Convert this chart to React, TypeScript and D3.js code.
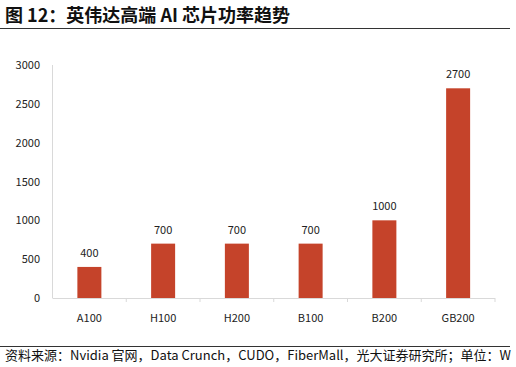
import React from "react";
import * as d3 from "d3";

const categories = ["A100", "H100", "H200", "B100", "B200", "GB200"];
const values = [400, 700, 700, 700, 1000, 2700];
const yTicks = [0, 500, 1000, 1500, 2000, 2500, 3000];

const W = 516, H = 367;
const left = 52.5, right = 495, top = 65, bottom = 298;
const FONT = "'Noto Sans CJK SC', 'Noto Sans', sans-serif";

export default function App() {
  const x = d3.scaleBand<string>().domain(categories).range([left, right]);
  const y = d3.scaleLinear().domain([0, 3000]).range([bottom, top]);
  const bw = 24;
  return (
    <svg width={W} height={H} style={{ position: "absolute", left: 0, top: 0 }} fontFamily={FONT}>
      <text x={5} y={22} fontSize={18} fontWeight={700} fill="#111">图 12：英伟达高端 AI 芯片功率趋势</text>
      <line x1={0} x2={510} y1={28.5} y2={28.5} stroke="#333" strokeWidth={1} />
      <line x1={left} x2={left} y1={top} y2={bottom} stroke="#d9d9d9" />
      <line x1={left} x2={right} y1={bottom + 0.5} y2={bottom + 0.5} stroke="#d9d9d9" />
      {categories.map((c, i) => (
        <line key={"t" + i} x1={(x(c) as number) + x.bandwidth()} x2={(x(c) as number) + x.bandwidth()} y1={bottom} y2={bottom + 4} stroke="#d9d9d9" />
      ))}
      {yTicks.map((t) => (
        <text key={t} x={40} y={y(t) + 4} fontSize={11} textAnchor="end" fill="#222">{t}</text>
      ))}
      {categories.map((c, i) => {
        const cx = (x(c) as number) + x.bandwidth() / 2;
        return (
          <g key={c}>
            <rect x={cx - bw / 2} y={y(values[i])} width={bw} height={bottom - y(values[i])} fill="#C5432A" />
            <text x={cx} y={y(values[i]) - 10} fontSize={11} textAnchor="middle" fill="#222">{values[i]}</text>
            <text x={cx} y={322} fontSize={11} textAnchor="middle" fill="#222">{c}</text>
          </g>
        );
      })}
      <line x1={0} x2={510} y1={346.5} y2={346.5} stroke="#333" strokeWidth={1} />
      <text x={5} y={360} fontSize={13} fill="#111">资料来源：Nvidia 官网，Data Crunch，CUDO，FiberMall，光大证券研究所；单位：W</text>
    </svg>
  );
}
